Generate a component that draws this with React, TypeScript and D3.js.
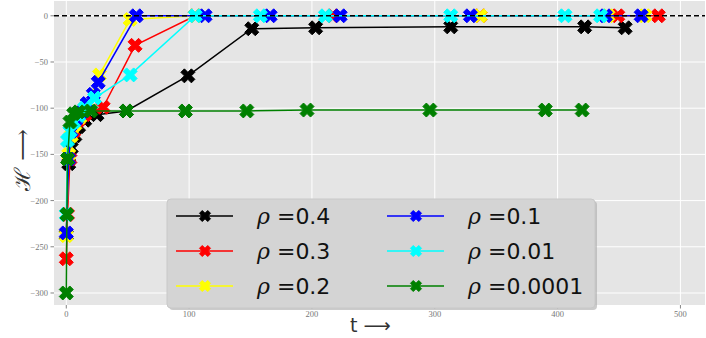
import React, { useEffect, useRef } from "react";
import * as d3 from "d3";

// data
const labels = ["0.4", "0.3", "0.2", "0.1", "0.01", "0.0001"];
const colors = ["black", "red", "yellow", "blue", "cyan", "green"];

const tBlack = [0, 2, 4, 7, 10, 15, 25, 49, 99, 151, 203, 313, 422, 455];
const hBlack = [-237, -160, -143, -130, -120, -113, -107, -103, -65, -14, -13, -12, -12, -13];

const tRed = [0, 1, 3, 6, 10, 15, 30, 56, 105, 217, 337, 449, 482];
const hRed = [-263, -215, -155, -125, -113, -107, -99, -32, 0, 0, 0, 0, 0];

const tYellow = [0, 2, 4, 7, 11, 16, 27, 52, 105, 337, 441, 471];
const hYellow = [-238, -150, -130, -118, -110, -100, -64, -4, 0, 0, 0, 0];

const tBlue = [0, 2, 4, 8, 12, 17, 22, 26, 57, 113, 166, 223, 329, 439, 468];
const hBlue = [-235, -155, -125, -112, -105, -95, -85, -72, 0, 0, 0, 0, 0, 0, 0];

const tCyan = [0, 1, 3, 6, 10, 15, 23, 52, 105, 158, 211, 313, 406, 435];
const hCyan = [-215, -135, -125, -115, -108, -100, -89, -64, 0, 0, 0, 0, 0, 0];

const tGreen = [0, 0.5, 1, 3, 6, 10, 20, 49, 97, 147, 196, 296, 390, 420];
const hGreen = [-300, -215, -155, -115, -106, -104, -103, -103, -103, -103, -102, -102, -102, -102];

const allT = [tBlack, tRed, tYellow, tBlue, tCyan, tGreen];
const allH = [hBlack, hRed, hYellow, hBlue, hCyan, hGreen];

const xTicks = [0, 100, 200, 300, 400, 500];
const yTicks = [0, -50, -100, -150, -200, -250, -300];

// matplotlib's filled 'X' marker
const xMarker = (s: number) => {
  const pts = [[-1, -2], [0, -1], [1, -2], [2, -1], [1, 0], [2, 1],
    [1, 2], [0, 1], [-1, 2], [-2, 1], [-1, 0], [-2, -1]];
  return "M" + pts.map(p => (p[0] * s / 4) + "," + (p[1] * s / 4)).join("L") + "Z";
};

export default function App() {
  const ref = useRef<SVGSVGElement>(null);

  useEffect(() => {
    const svg = d3.select(ref.current);
    svg.selectAll("*").remove();

    const x = d3.scaleLinear().domain([-10, 520]).range([54, 705]);
    const y = d3.scaleLinear().domain([16, -313]).range([1, 305]);

    // plot background
    svg.append("rect")
      .attr("x", 54).attr("y", 1)
      .attr("width", 651).attr("height", 304)
      .attr("fill", "#e5e5e5");

    // grid
    svg.selectAll(".gx").data(xTicks).enter().append("line")
      .attr("x1", d => x(d)).attr("x2", d => x(d))
      .attr("y1", 1).attr("y2", 305)
      .attr("stroke", "white").attr("stroke-width", 1);
    svg.selectAll(".gy").data(yTicks).enter().append("line")
      .attr("y1", d => y(d)).attr("y2", d => y(d))
      .attr("x1", 54).attr("x2", 705)
      .attr("stroke", "white").attr("stroke-width", 1);

    // ticks
    const tickFont = "'Liberation Serif', 'DejaVu Serif', serif";
    svg.selectAll(".tx").data(xTicks).enter().append("line")
      .attr("x1", d => x(d)).attr("x2", d => x(d))
      .attr("y1", 305).attr("y2", 308.5)
      .attr("stroke", "#666").attr("stroke-width", 0.8);
    svg.selectAll(".lx").data(xTicks).enter().append("text")
      .attr("x", d => x(d)).attr("y", 317)
      .attr("text-anchor", "middle")
      .attr("font-family", tickFont).attr("font-size", 8.5)
      .attr("fill", "#777")
      .text(d => String(d));
    svg.selectAll(".ty").data(yTicks).enter().append("line")
      .attr("y1", d => y(d)).attr("y2", d => y(d))
      .attr("x1", 50.5).attr("x2", 54)
      .attr("stroke", "#666").attr("stroke-width", 0.8);
    svg.selectAll(".ly").data(yTicks).enter().append("text")
      .attr("x", 48).attr("y", d => y(d) + 3)
      .attr("text-anchor", "end")
      .attr("font-family", tickFont).attr("font-size", 8.5)
      .attr("fill", "#777")
      .text(d => d === 0 ? "0" : "\u2212" + Math.abs(d));

    const line = d3.line<number[]>().x(d => x(d[0])).y(d => y(d[1]));

    // series
    allT.forEach((ts, i) => {
      const pts = ts.map((t, j) => [t, allH[i][j]]);
      const g = svg.append("g");
      g.append("path")
        .attr("d", line(pts))
        .attr("fill", "none")
        .attr("stroke", colors[i])
        .attr("stroke-width", 1.5);
      g.selectAll("path.m").data(pts).enter().append("path")
        .attr("class", "m")
        .attr("d", xMarker(14))
        .attr("transform", d => "translate(" + x(d[0]) + "," + y(d[1]) + ")")
        .attr("fill", colors[i])
        .attr("stroke", colors[i])
        .attr("stroke-width", 1)
        .attr("stroke-linejoin", "round");
    });

    // reference line at 0
    svg.append("line")
      .attr("x1", 54).attr("x2", 705)
      .attr("y1", y(0)).attr("y2", y(0))
      .attr("stroke", "black")
      .attr("stroke-width", 1.5)
      .attr("stroke-dasharray", "5,3");

    // legend
    const leg = svg.append("g");
    leg.append("rect")
      .attr("x", 169).attr("y", 201)
      .attr("width", 428).attr("height", 109)
      .attr("rx", 4)
      .attr("fill", "#a8a8a8").attr("opacity", 0.6);
    leg.append("rect")
      .attr("x", 167).attr("y", 199)
      .attr("width", 428).attr("height", 109)
      .attr("rx", 4)
      .attr("fill", "#d4d4d4")
      .attr("stroke", "#c8c8c8").attr("stroke-width", 1);

    labels.forEach((lab, i) => {
      const col = Math.floor(i / 3);
      const row = i % 3;
      const x0 = col === 0 ? 176 : 387;
      const cy = 216 + row * 35;
      leg.append("line")
        .attr("x1", x0).attr("x2", x0 + 57)
        .attr("y1", cy).attr("y2", cy)
        .attr("stroke", colors[i]).attr("stroke-width", 1.5);
      leg.append("path")
        .attr("d", xMarker(11))
        .attr("transform", "translate(" + (x0 + 29) + "," + cy + ")")
        .attr("fill", colors[i]).attr("stroke", colors[i])
        .attr("stroke-width", 1).attr("stroke-linejoin", "round");
      const txt = leg.append("text")
        .attr("x", x0 + 81).attr("y", cy + 8)
        .attr("font-size", 22)
        .attr("fill", "#111");
      txt.append("tspan")
        .attr("font-family", "'DejaVu Serif', serif")
        .attr("font-style", "italic")
        .text("\u03c1 ");
      txt.append("tspan")
        .attr("font-family", "'DejaVu Serif', serif")
        .text("=");
      txt.append("tspan")
        .attr("font-family", "'DejaVu Sans', sans-serif")
        .text(lab);
    });

    // axis labels
    svg.append("text")
      .attr("x", 350).attr("y", 332)
      .attr("font-family", "'DejaVu Sans', sans-serif")
      .attr("font-size", 19)
      .attr("fill", "#333")
      .text("t \u27f6");
    svg.append("text")
      .attr("transform", "translate(30,160) rotate(-90)")
      .attr("text-anchor", "middle")
      .attr("font-family", "'DejaVu Serif', serif")
      .attr("font-size", 22)
      .attr("fill", "#333")
      .text("\u210b \u27f6");
  }, []);

  return (
    <svg ref={ref} width={706} height={338}
      style={{ position: "absolute", left: 0, top: 0, background: "white" }} />
  );
}
